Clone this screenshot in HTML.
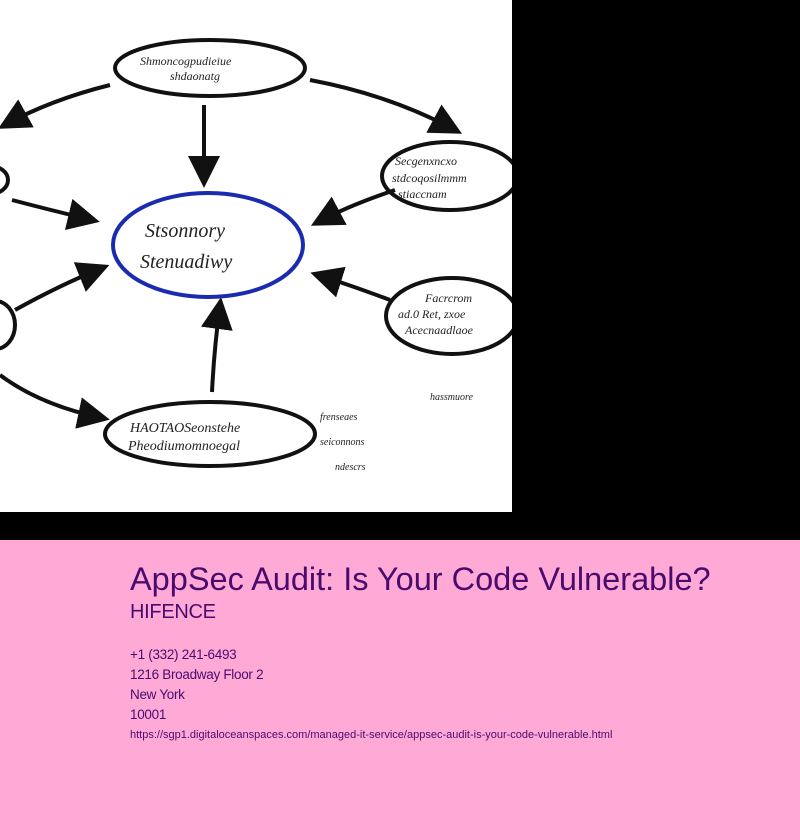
<!DOCTYPE html>
<html><head><meta charset="utf-8"><style>
body{margin:0;width:800px;height:840px;background:#ffa9d6;font-family:"Liberation Sans",sans-serif;overflow:hidden;position:relative}
#top{position:absolute;left:0;top:0;width:800px;height:540px;background:#000}
#img{position:absolute;left:0;top:0;width:512px;height:512px;background:#fff}
.t{position:absolute;left:130px;color:#4a0b6e;white-space:nowrap}
</style></head><body>
<div id="top"><svg id="img" width="512" height="512" viewBox="0 0 512 512">
<defs><marker id="a" markerWidth="8" markerHeight="8" refX="6" refY="4" orient="auto"><path d="M0,0 L8,4 L0,8 z" fill="#111"/></marker></defs>
<g fill="none" stroke="#111" stroke-width="4">
<ellipse cx="210" cy="68" rx="95" ry="28"/>
<ellipse cx="450" cy="176" rx="68" ry="34"/>
<ellipse cx="452" cy="316" rx="66" ry="38"/>
<ellipse cx="210" cy="434" rx="105" ry="32"/>
<ellipse cx="-10" cy="180" rx="18" ry="14"/>
<ellipse cx="-5" cy="325" rx="20" ry="24"/>
<path d="M204 105 L204 180" marker-end="url(#a)"/>
<path d="M110 85 Q50 100 5 125" marker-end="url(#a)"/>
<path d="M310 80 Q390 95 455 130" marker-end="url(#a)"/>
<path d="M395 190 Q350 205 318 222" marker-end="url(#a)"/>
<path d="M390 300 Q350 285 318 275" marker-end="url(#a)"/>
<path d="M212 392 Q214 350 220 305" marker-end="url(#a)"/>
<path d="M0 375 Q40 405 102 418" marker-end="url(#a)"/>
<path d="M12 200 Q50 210 92 220" marker-end="url(#a)"/>
<path d="M15 310 Q60 285 102 268" marker-end="url(#a)"/>
</g>
<ellipse cx="208" cy="245" rx="95" ry="52" fill="none" stroke="#1a2bb0" stroke-width="4"/>
<g font-family="Liberation Serif,serif" font-style="italic" fill="#222">
<text x="145" y="237" font-size="20">Stsonnory</text>
<text x="140" y="268" font-size="20">Stenuadiwy</text>
<text x="140" y="65" font-size="12">Shmoncogpudieiue</text>
<text x="170" y="80" font-size="12">shdaonatg</text>
<text x="395" y="165" font-size="12">Secgenxncxo</text>
<text x="392" y="182" font-size="12">stdcoqosilmmm</text>
<text x="398" y="198" font-size="12">stiaccnam</text>
<text x="425" y="302" font-size="12">Facrcrom</text>
<text x="398" y="318" font-size="12">ad.0 Ret, zxoe</text>
<text x="405" y="334" font-size="12">Acecnaadlaoe</text>
<text x="130" y="432" font-size="14">HAOTAOSeonstehe</text>
<text x="128" y="450" font-size="14">Pheodiumomnoegal</text>
<text x="320" y="420" font-size="10">frenseaes</text>
<text x="320" y="445" font-size="10">seiconnons</text>
<text x="335" y="470" font-size="10">ndescrs</text>
<text x="430" y="400" font-size="10">hassmuore</text>
</g>
</svg></div>
<div class="t" style="top:561px;font-size:32.5px;letter-spacing:0px">AppSec Audit: Is Your Code Vulnerable?</div>
<div class="t" style="top:601px;font-size:20px;letter-spacing:-0.3px">HIFENCE</div>
<div class="t" style="top:647px;font-size:13.5px;letter-spacing:-0.3px">+1 (332) 241-6493</div>
<div class="t" style="top:667px;font-size:13.5px;letter-spacing:-0.3px">1216 Broadway Floor 2</div>
<div class="t" style="top:687px;font-size:13.5px;letter-spacing:-0.3px">New York</div>
<div class="t" style="top:707px;font-size:13.5px;letter-spacing:-0.3px">10001</div>
<div class="t" style="top:729px;font-size:11px;letter-spacing:0px">https://sgp1.digitaloceanspaces.com/managed-it-service/appsec-audit-is-your-code-vulnerable.html</div>
</body></html>
